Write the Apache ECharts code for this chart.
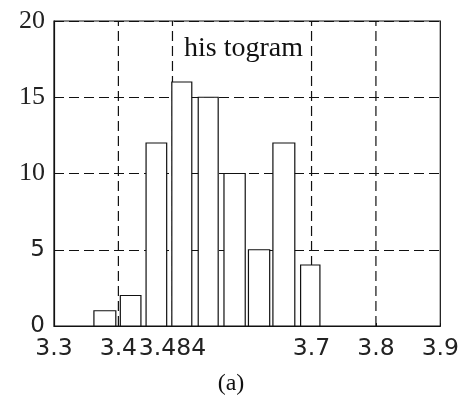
<!DOCTYPE html>
<html>
<head>
<meta charset="utf-8">
<script src="https://cdn.jsdelivr.net/npm/echarts@6/dist/echarts.min.js"></script>
<style>
  html, body { margin: 0; padding: 0; background: #fff; }
  #main { width: 462px; height: 400px; }
</style>
</head>
<body>
<div id="main"></div>
<script>
// histogram bins (left edge, right edge) and counts
let binLeft = [3.362, 3.403, 3.443, 3.483, 3.524, 3.564, 3.602, 3.640, 3.683];
let binRight = [3.396, 3.435, 3.475, 3.514, 3.555, 3.597, 3.635, 3.674, 3.713];
let counts = [1, 2, 12, 16, 15, 10, 5, 12, 4];

// tick labels / dashed grid positions on x
let xTickLabels = [3.3, 3.4, 3.484, 3.7, 3.8, 3.9];
let xGridLines = [3.4, 3.484, 3.7, 3.8];
let yTickLabels = [0, 5, 10, 15, 20];

let chartDom = document.getElementById('main');
let myChart = echarts.init(chartDom);

let barData = counts.map(function (c, i) {
    return [binLeft[i], binRight[i], c];
});
let gridData = xGridLines.map(function (x) { return [x]; });

let serif = '"Liberation Serif", "Times New Roman", serif';
let sans = '"DejaVu Sans", sans-serif';

let option = {
    animation: false,
    backgroundColor: '#fff',
    grid: {
        left: 54,
        right: 19,
        top: 21,
        bottom: 74,
        show: true,
        borderColor: '#111',
        borderWidth: 1.2,
        backgroundColor: 'transparent'
    },
    xAxis: {
        type: 'value',
        min: 3.3,
        max: 3.9,
        interval: 0.1,
        axisLine: { show: true, lineStyle: { color: '#111', width: 1.2 } },
        axisTick: { show: true, inside: true, length: 3, customValues: xTickLabels, lineStyle: { color: '#111' } },
        splitLine: { show: false },
        axisLabel: {
            customValues: xTickLabels,
            margin: 11,
            color: '#222',
            fontFamily: sans,
            fontSize: 23.5,
            formatter: function (v) { return String(v); }
        }
    },
    yAxis: {
        type: 'value',
        min: 0,
        max: 20,
        interval: 5,
        axisLine: { show: true, lineStyle: { color: '#111', width: 1.2 } },
        axisTick: { show: true, inside: true, length: 5, lineStyle: { color: '#111' } },
        splitLine: { show: true, lineStyle: { color: '#111', type: [10, 5], width: 1.2 } },
        axisLabel: {
            margin: 9,
            formatter: function (v) {
                return v < 10 ? '{s|' + v + '}' : '{t|' + v + '}';
            },
            rich: {
                s: { fontFamily: sans, fontSize: 23, color: '#222' },
                t: { fontFamily: serif, fontSize: 26, color: '#222' }
            }
        }
    },
    graphic: [
        {
            type: 'text',
            left: 184,
            top: 35,
            style: { text: 'his togram', font: '28px ' + serif, fill: '#111' }
        },
        {
            type: 'text',
            left: 'center',
            top: 372,
            x: 14,
            style: { text: '(a)', font: '24px ' + serif, fill: '#111' }
        }
    ],
    series: [
        {
            type: 'custom',
            z: 1,
            data: gridData,
            encode: { x: 0 },
            renderItem: function (params, api) {
                let p0 = api.coord([api.value(0), 0]);
                let p1 = api.coord([api.value(0), 20]);
                return {
                    type: 'line',
                    shape: { x1: p0[0], y1: p0[1], x2: p1[0], y2: p1[1] },
                    style: { stroke: '#111', lineWidth: 1.2, lineDash: [10, 5] }
                };
            }
        },
        {
            type: 'custom',
            z: 3,
            data: barData,
            encode: { x: [0, 1], y: 2 },
            renderItem: function (params, api) {
                let a = api.coord([api.value(0), api.value(2)]);
                let b = api.coord([api.value(1), 0]);
                return {
                    type: 'rect',
                    shape: { x: a[0], y: a[1], width: b[0] - a[0], height: b[1] - a[1] },
                    style: { fill: '#fff', stroke: '#111', lineWidth: 1.2 }
                };
            }
        }
    ]
};

myChart.setOption(option);
</script>
</body>
</html>
